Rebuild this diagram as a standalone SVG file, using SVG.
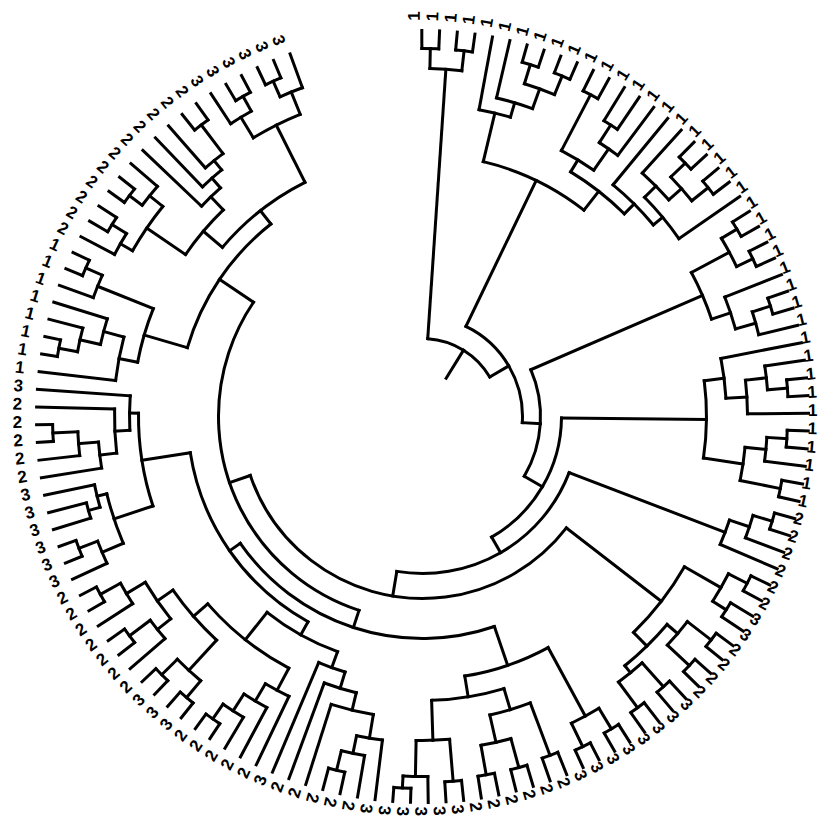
<svg xmlns="http://www.w3.org/2000/svg" width="819" height="821" viewBox="0 0 819 821">
<style>
.t path,.t circle{fill:none;stroke:#000;stroke-width:3;stroke-linecap:square}
.l text{font-family:"Liberation Sans",Arial,sans-serif;font-size:17px;font-weight:bold;fill:#000;dominant-baseline:central}
.l .f{text-anchor:end}
</style>
<rect width="819" height="821" fill="#fff"/>
<g id="connectors" class="t" transform="translate(422.5,416.5)">
<path d="M45 0H78" transform="rotate(-58.27)"/>
<circle r="78" pathLength="360" stroke-dasharray="55.76 720" transform="rotate(-86.15)"/>
<path d="M78 0H348" transform="rotate(-86.15)"/>
<path d="M78 0H100" transform="rotate(-30.39)"/>
<circle r="100" pathLength="360" stroke-dasharray="67.78 720" transform="rotate(-64.28)"/>
<path d="M100 0H262" transform="rotate(-64.28)"/>
<path d="M100 0H118" transform="rotate(3.51)"/>
<circle r="118" pathLength="360" stroke-dasharray="53.77 720" transform="rotate(-23.38)"/>
<path d="M118 0H305" transform="rotate(-23.38)"/>
<path d="M118 0H139" transform="rotate(30.39)"/>
<circle r="139" pathLength="360" stroke-dasharray="59.59 720" transform="rotate(0.6)"/>
<path d="M139 0H284" transform="rotate(0.6)"/>
<path d="M139 0H157" transform="rotate(60.18)"/>
<circle r="157" pathLength="360" stroke-dasharray="78.48 720" transform="rotate(20.94)"/>
<path d="M157 0H324" transform="rotate(20.94)"/>
<path d="M157 0H182" transform="rotate(99.42)"/>
<circle r="182" pathLength="360" stroke-dasharray="123.35 720" transform="rotate(37.75)"/>
<path d="M182 0H302" transform="rotate(37.75)"/>
<path d="M182 0H204" transform="rotate(161.09)"/>
<circle r="204" pathLength="360" stroke-dasharray="105.92 720" transform="rotate(108.13)"/>
<path d="M204 0H222" transform="rotate(108.13)"/>
<path d="M204 0H245" transform="rotate(214.05)"/>
<circle r="348" pathLength="360" stroke-dasharray="5.27 720" transform="rotate(-88.78)"/>
<path d="M348 0H368" transform="rotate(-88.78)"/>
<path d="M348 0H368" transform="rotate(-83.51)"/>
<circle r="368" pathLength="360" stroke-dasharray="2.64 720" transform="rotate(-90.1)"/>
<circle r="368" pathLength="360" stroke-dasharray="2.64 720" transform="rotate(-84.83)"/>
<path d="M368 0H386" transform="rotate(-90.1)"/>
<path d="M368 0H386" transform="rotate(-87.46)"/>
<path d="M368 0H386" transform="rotate(-84.83)"/>
<path d="M368 0H386" transform="rotate(-82.19)"/>
<circle r="262" pathLength="360" stroke-dasharray="24.63 720" transform="rotate(-76.59)"/>
<path d="M262 0H312" transform="rotate(-76.59)"/>
<path d="M262 0H286" transform="rotate(-51.96)"/>
<circle r="312" pathLength="360" stroke-dasharray="5.94 720" transform="rotate(-79.56)"/>
<path d="M312 0H386" transform="rotate(-79.56)"/>
<path d="M312 0H327" transform="rotate(-73.63)"/>
<circle r="327" pathLength="360" stroke-dasharray="6.59 720" transform="rotate(-76.92)"/>
<path d="M327 0H386" transform="rotate(-76.92)"/>
<path d="M327 0H348" transform="rotate(-70.33)"/>
<circle r="348" pathLength="360" stroke-dasharray="5.27 720" transform="rotate(-72.97)"/>
<path d="M348 0H368" transform="rotate(-72.97)"/>
<path d="M348 0H368" transform="rotate(-67.7)"/>
<circle r="368" pathLength="360" stroke-dasharray="2.63 720" transform="rotate(-74.28)"/>
<circle r="368" pathLength="360" stroke-dasharray="2.63 720" transform="rotate(-69.01)"/>
<path d="M368 0H386" transform="rotate(-74.28)"/>
<path d="M368 0H386" transform="rotate(-71.65)"/>
<path d="M368 0H386" transform="rotate(-69.01)"/>
<path d="M368 0H386" transform="rotate(-66.38)"/>
<circle r="286" pathLength="360" stroke-dasharray="13.68 720" transform="rotate(-58.8)"/>
<path d="M286 0H300" transform="rotate(-58.8)"/>
<path d="M286 0H300" transform="rotate(-45.12)"/>
<circle r="300" pathLength="360" stroke-dasharray="7.25 720" transform="rotate(-62.42)"/>
<path d="M300 0H363" transform="rotate(-62.42)"/>
<path d="M300 0H326" transform="rotate(-55.18)"/>
<circle r="363" pathLength="360" stroke-dasharray="2.64 720" transform="rotate(-63.74)"/>
<path d="M363 0H386" transform="rotate(-63.74)"/>
<path d="M363 0H386" transform="rotate(-61.1)"/>
<circle r="326" pathLength="360" stroke-dasharray="3.95 720" transform="rotate(-57.15)"/>
<path d="M326 0H347" transform="rotate(-57.15)"/>
<path d="M326 0H386" transform="rotate(-53.2)"/>
<circle r="347" pathLength="360" stroke-dasharray="2.64 720" transform="rotate(-58.47)"/>
<path d="M347 0H386" transform="rotate(-58.47)"/>
<path d="M347 0H386" transform="rotate(-55.83)"/>
<circle r="300" pathLength="360" stroke-dasharray="10.88 720" transform="rotate(-50.56)"/>
<path d="M300 0H386" transform="rotate(-50.56)"/>
<path d="M300 0H312" transform="rotate(-39.69)"/>
<circle r="312" pathLength="360" stroke-dasharray="9.89 720" transform="rotate(-44.63)"/>
<path d="M312 0H328" transform="rotate(-44.63)"/>
<path d="M312 0H386" transform="rotate(-34.74)"/>
<circle r="328" pathLength="360" stroke-dasharray="6.59 720" transform="rotate(-47.92)"/>
<path d="M328 0H386" transform="rotate(-47.92)"/>
<path d="M328 0H345" transform="rotate(-41.34)"/>
<circle r="345" pathLength="360" stroke-dasharray="5.27 720" transform="rotate(-43.97)"/>
<path d="M345 0H365" transform="rotate(-43.97)"/>
<path d="M345 0H366" transform="rotate(-38.7)"/>
<circle r="365" pathLength="360" stroke-dasharray="2.64 720" transform="rotate(-45.29)"/>
<circle r="366" pathLength="360" stroke-dasharray="2.64 720" transform="rotate(-40.02)"/>
<path d="M365 0H386" transform="rotate(-45.29)"/>
<path d="M365 0H386" transform="rotate(-42.65)"/>
<path d="M366 0H386" transform="rotate(-40.02)"/>
<path d="M366 0H386" transform="rotate(-37.38)"/>
<circle r="305" pathLength="360" stroke-dasharray="9.56 720" transform="rotate(-28.16)"/>
<path d="M305 0H348" transform="rotate(-28.16)"/>
<path d="M305 0H325" transform="rotate(-18.6)"/>
<circle r="348" pathLength="360" stroke-dasharray="5.27 720" transform="rotate(-30.79)"/>
<path d="M348 0H366" transform="rotate(-30.79)"/>
<path d="M348 0H366" transform="rotate(-25.52)"/>
<circle r="366" pathLength="360" stroke-dasharray="2.64 720" transform="rotate(-32.11)"/>
<circle r="366" pathLength="360" stroke-dasharray="2.64 720" transform="rotate(-26.84)"/>
<path d="M366 0H386" transform="rotate(-32.11)"/>
<path d="M366 0H386" transform="rotate(-29.47)"/>
<path d="M366 0H386" transform="rotate(-26.84)"/>
<path d="M366 0H386" transform="rotate(-24.2)"/>
<circle r="325" pathLength="360" stroke-dasharray="5.93 720" transform="rotate(-21.56)"/>
<path d="M325 0H386" transform="rotate(-21.56)"/>
<path d="M325 0H346" transform="rotate(-15.64)"/>
<circle r="346" pathLength="360" stroke-dasharray="3.95 720" transform="rotate(-17.61)"/>
<path d="M346 0H365" transform="rotate(-17.61)"/>
<path d="M346 0H386" transform="rotate(-13.66)"/>
<circle r="365" pathLength="360" stroke-dasharray="2.64 720" transform="rotate(-18.93)"/>
<path d="M365 0H386" transform="rotate(-18.93)"/>
<path d="M365 0H386" transform="rotate(-16.29)"/>
<circle r="284" pathLength="360" stroke-dasharray="15.65 720" transform="rotate(-7.23)"/>
<path d="M284 0H304" transform="rotate(-7.23)"/>
<path d="M284 0H324" transform="rotate(8.42)"/>
<circle r="304" pathLength="360" stroke-dasharray="7.58 720" transform="rotate(-11.02)"/>
<path d="M304 0H386" transform="rotate(-11.02)"/>
<path d="M304 0H325" transform="rotate(-3.44)"/>
<circle r="325" pathLength="360" stroke-dasharray="5.93 720" transform="rotate(-6.41)"/>
<path d="M325 0H346" transform="rotate(-6.41)"/>
<path d="M325 0H386" transform="rotate(-0.48)"/>
<circle r="346" pathLength="360" stroke-dasharray="3.95 720" transform="rotate(-8.38)"/>
<path d="M346 0H386" transform="rotate(-8.38)"/>
<path d="M346 0H366" transform="rotate(-4.43)"/>
<circle r="366" pathLength="360" stroke-dasharray="2.64 720" transform="rotate(-5.75)"/>
<path d="M366 0H386" transform="rotate(-5.75)"/>
<path d="M366 0H386" transform="rotate(-3.11)"/>
<circle r="324" pathLength="360" stroke-dasharray="5.93 720" transform="rotate(5.46)"/>
<path d="M324 0H345" transform="rotate(5.46)"/>
<path d="M324 0H365" transform="rotate(11.39)"/>
<circle r="345" pathLength="360" stroke-dasharray="3.95 720" transform="rotate(3.48)"/>
<path d="M345 0H365" transform="rotate(3.48)"/>
<path d="M345 0H386" transform="rotate(7.43)"/>
<circle r="365" pathLength="360" stroke-dasharray="2.64 720" transform="rotate(2.16)"/>
<path d="M365 0H386" transform="rotate(2.16)"/>
<path d="M365 0H386" transform="rotate(4.8)"/>
<circle r="365" pathLength="360" stroke-dasharray="2.63 720" transform="rotate(10.07)"/>
<path d="M365 0H386" transform="rotate(10.07)"/>
<path d="M365 0H386" transform="rotate(12.7)"/>
<circle r="324" pathLength="360" stroke-dasharray="4.62 720" transform="rotate(18.64)"/>
<path d="M324 0H345" transform="rotate(18.64)"/>
<path d="M324 0H386" transform="rotate(23.25)"/>
<circle r="345" pathLength="360" stroke-dasharray="3.95 720" transform="rotate(16.66)"/>
<path d="M345 0H365" transform="rotate(16.66)"/>
<path d="M345 0H386" transform="rotate(20.61)"/>
<circle r="365" pathLength="360" stroke-dasharray="2.64 720" transform="rotate(15.34)"/>
<path d="M365 0H386" transform="rotate(15.34)"/>
<path d="M365 0H386" transform="rotate(17.98)"/>
<circle r="302" pathLength="360" stroke-dasharray="15.81 720" transform="rotate(29.84)"/>
<path d="M302 0H344" transform="rotate(29.84)"/>
<path d="M302 0H321" transform="rotate(45.65)"/>
<circle r="344" pathLength="360" stroke-dasharray="5.28 720" transform="rotate(27.2)"/>
<path d="M344 0H365" transform="rotate(27.2)"/>
<path d="M344 0H360" transform="rotate(32.48)"/>
<circle r="365" pathLength="360" stroke-dasharray="2.64 720" transform="rotate(25.88)"/>
<path d="M365 0H386" transform="rotate(25.88)"/>
<path d="M365 0H386" transform="rotate(28.52)"/>
<circle r="360" pathLength="360" stroke-dasharray="2.63 720" transform="rotate(31.16)"/>
<path d="M360 0H386" transform="rotate(31.16)"/>
<path d="M360 0H386" transform="rotate(33.79)"/>
<circle r="321" pathLength="360" stroke-dasharray="10.55 720" transform="rotate(40.38)"/>
<path d="M321 0H335" transform="rotate(40.38)"/>
<path d="M321 0H330" transform="rotate(50.93)"/>
<circle r="335" pathLength="360" stroke-dasharray="5.28 720" transform="rotate(37.75)"/>
<path d="M335 0H365" transform="rotate(37.75)"/>
<path d="M335 0H365" transform="rotate(43.02)"/>
<circle r="365" pathLength="360" stroke-dasharray="2.63 720" transform="rotate(36.43)"/>
<circle r="365" pathLength="360" stroke-dasharray="2.64 720" transform="rotate(41.7)"/>
<path d="M365 0H386" transform="rotate(36.43)"/>
<path d="M365 0H386" transform="rotate(39.06)"/>
<path d="M365 0H386" transform="rotate(41.7)"/>
<path d="M365 0H386" transform="rotate(44.34)"/>
<circle r="330" pathLength="360" stroke-dasharray="5.27 720" transform="rotate(48.29)"/>
<path d="M330 0H362" transform="rotate(48.29)"/>
<path d="M330 0H362" transform="rotate(53.56)"/>
<circle r="362" pathLength="360" stroke-dasharray="2.64 720" transform="rotate(46.97)"/>
<circle r="362" pathLength="360" stroke-dasharray="2.64 720" transform="rotate(52.24)"/>
<path d="M362 0H386" transform="rotate(46.97)"/>
<path d="M362 0H386" transform="rotate(49.61)"/>
<path d="M362 0H386" transform="rotate(52.24)"/>
<path d="M362 0H386" transform="rotate(54.88)"/>
<circle r="222" pathLength="360" stroke-dasharray="74.04 720" transform="rotate(71.11)"/>
<path d="M222 0H263" transform="rotate(71.11)"/>
<path d="M222 0H235" transform="rotate(145.15)"/>
<circle r="263" pathLength="360" stroke-dasharray="19.28 720" transform="rotate(61.47)"/>
<path d="M263 0H341" transform="rotate(61.47)"/>
<path d="M263 0H284" transform="rotate(80.75)"/>
<circle r="341" pathLength="360" stroke-dasharray="5.27 720" transform="rotate(58.84)"/>
<path d="M341 0H365" transform="rotate(58.84)"/>
<path d="M341 0H367" transform="rotate(64.11)"/>
<circle r="365" pathLength="360" stroke-dasharray="2.63 720" transform="rotate(57.52)"/>
<path d="M365 0H386" transform="rotate(57.52)"/>
<path d="M365 0H386" transform="rotate(60.15)"/>
<circle r="367" pathLength="360" stroke-dasharray="2.63 720" transform="rotate(62.79)"/>
<path d="M367 0H386" transform="rotate(62.79)"/>
<path d="M367 0H386" transform="rotate(65.42)"/>
<circle r="284" pathLength="360" stroke-dasharray="14.83 720" transform="rotate(73.33)"/>
<path d="M284 0H306" transform="rotate(73.33)"/>
<path d="M284 0H324" transform="rotate(88.16)"/>
<circle r="306" pathLength="360" stroke-dasharray="7.91 720" transform="rotate(69.38)"/>
<path d="M306 0H362" transform="rotate(69.38)"/>
<path d="M306 0H334" transform="rotate(77.29)"/>
<circle r="362" pathLength="360" stroke-dasharray="2.64 720" transform="rotate(68.06)"/>
<path d="M362 0H386" transform="rotate(68.06)"/>
<path d="M362 0H386" transform="rotate(70.7)"/>
<circle r="334" pathLength="360" stroke-dasharray="5.27 720" transform="rotate(74.65)"/>
<path d="M334 0H364" transform="rotate(74.65)"/>
<path d="M334 0H364" transform="rotate(79.92)"/>
<circle r="364" pathLength="360" stroke-dasharray="2.64 720" transform="rotate(73.33)"/>
<circle r="364" pathLength="360" stroke-dasharray="2.64 720" transform="rotate(78.6)"/>
<path d="M364 0H386" transform="rotate(73.33)"/>
<path d="M364 0H386" transform="rotate(75.97)"/>
<path d="M364 0H386" transform="rotate(78.6)"/>
<path d="M364 0H386" transform="rotate(81.24)"/>
<circle r="324" pathLength="360" stroke-dasharray="5.93 720" transform="rotate(85.2)"/>
<path d="M324 0H366" transform="rotate(85.2)"/>
<path d="M324 0H360" transform="rotate(91.13)"/>
<circle r="366" pathLength="360" stroke-dasharray="2.63 720" transform="rotate(83.88)"/>
<path d="M366 0H386" transform="rotate(83.88)"/>
<path d="M366 0H386" transform="rotate(86.51)"/>
<circle r="360" pathLength="360" stroke-dasharray="3.95 720" transform="rotate(89.15)"/>
<path d="M360 0H386" transform="rotate(89.15)"/>
<path d="M360 0H372" transform="rotate(93.1)"/>
<circle r="372" pathLength="360" stroke-dasharray="2.64 720" transform="rotate(91.78)"/>
<path d="M372 0H386" transform="rotate(91.78)"/>
<path d="M372 0H386" transform="rotate(94.42)"/>
<circle r="235" pathLength="360" stroke-dasharray="52 720" transform="rotate(119.15)"/>
<path d="M235 0H250" transform="rotate(119.15)"/>
<path d="M235 0H284" transform="rotate(171.15)"/>
<circle r="250" pathLength="360" stroke-dasharray="18.58 720" transform="rotate(109.87)"/>
<path d="M250 0H267" transform="rotate(109.87)"/>
<path d="M250 0H285" transform="rotate(128.44)"/>
<circle r="267" pathLength="360" stroke-dasharray="6.01 720" transform="rotate(106.86)"/>
<path d="M267 0H284" transform="rotate(106.86)"/>
<path d="M267 0H386" transform="rotate(112.87)"/>
<circle r="284" pathLength="360" stroke-dasharray="6.76 720" transform="rotate(103.48)"/>
<path d="M284 0H302" transform="rotate(103.48)"/>
<path d="M284 0H386" transform="rotate(110.24)"/>
<circle r="302" pathLength="360" stroke-dasharray="8.24 720" transform="rotate(99.37)"/>
<path d="M302 0H326" transform="rotate(99.37)"/>
<path d="M302 0H386" transform="rotate(107.6)"/>
<circle r="326" pathLength="360" stroke-dasharray="4.61 720" transform="rotate(97.06)"/>
<path d="M326 0H386" transform="rotate(97.06)"/>
<path d="M326 0H344" transform="rotate(101.67)"/>
<circle r="344" pathLength="360" stroke-dasharray="3.96 720" transform="rotate(99.69)"/>
<path d="M344 0H386" transform="rotate(99.69)"/>
<path d="M344 0H364" transform="rotate(103.65)"/>
<circle r="364" pathLength="360" stroke-dasharray="2.63 720" transform="rotate(102.33)"/>
<path d="M364 0H386" transform="rotate(102.33)"/>
<path d="M364 0H386" transform="rotate(104.96)"/>
<circle r="285" pathLength="360" stroke-dasharray="20.92 720" transform="rotate(117.98)"/>
<path d="M285 0H310" transform="rotate(117.98)"/>
<path d="M285 0H304" transform="rotate(138.9)"/>
<circle r="310" pathLength="360" stroke-dasharray="4.94 720" transform="rotate(115.51)"/>
<path d="M310 0H386" transform="rotate(115.51)"/>
<path d="M310 0H330" transform="rotate(120.45)"/>
<circle r="330" pathLength="360" stroke-dasharray="4.62 720" transform="rotate(118.14)"/>
<path d="M330 0H386" transform="rotate(118.14)"/>
<path d="M330 0H350" transform="rotate(122.76)"/>
<circle r="350" pathLength="360" stroke-dasharray="3.96 720" transform="rotate(120.78)"/>
<path d="M350 0H386" transform="rotate(120.78)"/>
<path d="M350 0H368" transform="rotate(124.74)"/>
<circle r="368" pathLength="360" stroke-dasharray="2.63 720" transform="rotate(123.42)"/>
<path d="M368 0H386" transform="rotate(123.42)"/>
<path d="M368 0H386" transform="rotate(126.05)"/>
<circle r="304" pathLength="360" stroke-dasharray="12.53 720" transform="rotate(132.64)"/>
<path d="M304 0H345" transform="rotate(132.64)"/>
<path d="M304 0H323" transform="rotate(145.17)"/>
<circle r="345" pathLength="360" stroke-dasharray="5.28 720" transform="rotate(130.01)"/>
<path d="M345 0H367" transform="rotate(130.01)"/>
<path d="M345 0H367" transform="rotate(135.28)"/>
<circle r="367" pathLength="360" stroke-dasharray="2.63 720" transform="rotate(128.69)"/>
<circle r="367" pathLength="360" stroke-dasharray="2.64 720" transform="rotate(133.96)"/>
<path d="M367 0H386" transform="rotate(128.69)"/>
<path d="M367 0H386" transform="rotate(131.32)"/>
<path d="M367 0H386" transform="rotate(133.96)"/>
<path d="M367 0H386" transform="rotate(136.6)"/>
<circle r="323" pathLength="360" stroke-dasharray="7.91 720" transform="rotate(141.21)"/>
<path d="M323 0H340" transform="rotate(141.21)"/>
<path d="M323 0H345" transform="rotate(149.12)"/>
<circle r="340" pathLength="360" stroke-dasharray="3.96 720" transform="rotate(139.23)"/>
<path d="M340 0H386" transform="rotate(139.23)"/>
<path d="M340 0H366" transform="rotate(143.19)"/>
<circle r="366" pathLength="360" stroke-dasharray="2.63 720" transform="rotate(141.87)"/>
<path d="M366 0H386" transform="rotate(141.87)"/>
<path d="M366 0H386" transform="rotate(144.5)"/>
<circle r="345" pathLength="360" stroke-dasharray="3.96 720" transform="rotate(147.14)"/>
<path d="M345 0H386" transform="rotate(147.14)"/>
<path d="M345 0H368" transform="rotate(151.1)"/>
<circle r="368" pathLength="360" stroke-dasharray="2.63 720" transform="rotate(149.78)"/>
<path d="M368 0H386" transform="rotate(149.78)"/>
<path d="M368 0H386" transform="rotate(152.41)"/>
<circle r="284" pathLength="360" stroke-dasharray="19.03 720" transform="rotate(161.64)"/>
<path d="M284 0H325" transform="rotate(161.64)"/>
<path d="M284 0H293" transform="rotate(180.67)"/>
<circle r="325" pathLength="360" stroke-dasharray="9.23 720" transform="rotate(157.03)"/>
<path d="M325 0H348" transform="rotate(157.03)"/>
<path d="M325 0H335" transform="rotate(166.25)"/>
<circle r="348" pathLength="360" stroke-dasharray="3.95 720" transform="rotate(155.05)"/>
<path d="M348 0H386" transform="rotate(155.05)"/>
<path d="M348 0H368" transform="rotate(159)"/>
<circle r="368" pathLength="360" stroke-dasharray="2.64 720" transform="rotate(157.68)"/>
<path d="M368 0H386" transform="rotate(157.68)"/>
<path d="M368 0H386" transform="rotate(160.32)"/>
<circle r="335" pathLength="360" stroke-dasharray="3.96 720" transform="rotate(164.28)"/>
<path d="M335 0H347" transform="rotate(164.28)"/>
<path d="M335 0H386" transform="rotate(168.23)"/>
<circle r="347" pathLength="360" stroke-dasharray="2.63 720" transform="rotate(162.96)"/>
<path d="M347 0H386" transform="rotate(162.96)"/>
<path d="M347 0H386" transform="rotate(165.59)"/>
<circle r="293" pathLength="360" stroke-dasharray="6.75 720" transform="rotate(177.29)"/>
<path d="M293 0H308" transform="rotate(177.29)"/>
<path d="M293 0H386" transform="rotate(184.04)"/>
<circle r="308" pathLength="360" stroke-dasharray="8.24 720" transform="rotate(173.17)"/>
<path d="M308 0H325" transform="rotate(173.17)"/>
<path d="M308 0H386" transform="rotate(181.41)"/>
<circle r="325" pathLength="360" stroke-dasharray="4.62 720" transform="rotate(170.86)"/>
<path d="M325 0H386" transform="rotate(170.86)"/>
<path d="M325 0H345" transform="rotate(175.48)"/>
<circle r="345" pathLength="360" stroke-dasharray="3.96 720" transform="rotate(173.5)"/>
<path d="M345 0H386" transform="rotate(173.5)"/>
<path d="M345 0H370" transform="rotate(177.46)"/>
<circle r="370" pathLength="360" stroke-dasharray="2.63 720" transform="rotate(176.14)"/>
<path d="M370 0H386" transform="rotate(176.14)"/>
<path d="M370 0H386" transform="rotate(178.77)"/>
<circle r="245" pathLength="360" stroke-dasharray="35.46 720" transform="rotate(196.32)"/>
<path d="M245 0H290" transform="rotate(196.32)"/>
<path d="M245 0H262" transform="rotate(231.78)"/>
<circle r="290" pathLength="360" stroke-dasharray="11.04 720" transform="rotate(190.8)"/>
<path d="M290 0H309" transform="rotate(190.8)"/>
<path d="M290 0H350" transform="rotate(201.84)"/>
<circle r="309" pathLength="360" stroke-dasharray="8.24 720" transform="rotate(186.68)"/>
<path d="M309 0H386" transform="rotate(186.68)"/>
<path d="M309 0H330" transform="rotate(194.92)"/>
<circle r="330" pathLength="360" stroke-dasharray="4.61 720" transform="rotate(192.61)"/>
<path d="M330 0H351" transform="rotate(192.61)"/>
<path d="M330 0H386" transform="rotate(197.22)"/>
<circle r="351" pathLength="360" stroke-dasharray="3.96 720" transform="rotate(190.64)"/>
<path d="M351 0H370" transform="rotate(190.64)"/>
<path d="M351 0H386" transform="rotate(194.59)"/>
<circle r="370" pathLength="360" stroke-dasharray="2.63 720" transform="rotate(189.32)"/>
<path d="M370 0H386" transform="rotate(189.32)"/>
<path d="M370 0H386" transform="rotate(191.95)"/>
<circle r="350" pathLength="360" stroke-dasharray="3.96 720" transform="rotate(199.86)"/>
<path d="M350 0H386" transform="rotate(199.86)"/>
<path d="M350 0H368" transform="rotate(203.82)"/>
<circle r="368" pathLength="360" stroke-dasharray="2.63 720" transform="rotate(202.5)"/>
<path d="M368 0H386" transform="rotate(202.5)"/>
<path d="M368 0H386" transform="rotate(205.13)"/>
<circle r="262" pathLength="360" stroke-dasharray="23.14 720" transform="rotate(220.21)"/>
<path d="M262 0H287" transform="rotate(220.21)"/>
<path d="M262 0H326" transform="rotate(243.35)"/>
<circle r="287" pathLength="360" stroke-dasharray="11.7 720" transform="rotate(214.36)"/>
<path d="M287 0H334" transform="rotate(214.36)"/>
<path d="M287 0H305" transform="rotate(226.06)"/>
<circle r="334" pathLength="360" stroke-dasharray="9.23 720" transform="rotate(209.75)"/>
<path d="M334 0H348" transform="rotate(209.75)"/>
<path d="M334 0H351" transform="rotate(218.97)"/>
<circle r="348" pathLength="360" stroke-dasharray="3.95 720" transform="rotate(207.77)"/>
<path d="M348 0H386" transform="rotate(207.77)"/>
<path d="M348 0H365" transform="rotate(211.72)"/>
<circle r="365" pathLength="360" stroke-dasharray="2.64 720" transform="rotate(210.4)"/>
<path d="M365 0H386" transform="rotate(210.4)"/>
<path d="M365 0H386" transform="rotate(213.04)"/>
<circle r="351" pathLength="360" stroke-dasharray="3.96 720" transform="rotate(217)"/>
<path d="M351 0H367" transform="rotate(217)"/>
<path d="M351 0H386" transform="rotate(220.95)"/>
<circle r="367" pathLength="360" stroke-dasharray="2.63 720" transform="rotate(215.68)"/>
<path d="M367 0H386" transform="rotate(215.68)"/>
<path d="M367 0H386" transform="rotate(218.31)"/>
<circle r="305" pathLength="360" stroke-dasharray="4.95 720" transform="rotate(223.58)"/>
<path d="M305 0H386" transform="rotate(223.58)"/>
<path d="M305 0H318" transform="rotate(228.53)"/>
<circle r="318" pathLength="360" stroke-dasharray="4.62 720" transform="rotate(226.22)"/>
<path d="M318 0H386" transform="rotate(226.22)"/>
<path d="M318 0H330" transform="rotate(230.84)"/>
<circle r="330" pathLength="360" stroke-dasharray="3.95 720" transform="rotate(228.86)"/>
<path d="M330 0H386" transform="rotate(228.86)"/>
<path d="M330 0H366" transform="rotate(232.81)"/>
<circle r="366" pathLength="360" stroke-dasharray="2.64 720" transform="rotate(231.49)"/>
<path d="M366 0H386" transform="rotate(231.49)"/>
<path d="M366 0H386" transform="rotate(234.13)"/>
<circle r="326" pathLength="360" stroke-dasharray="9.23 720" transform="rotate(238.74)"/>
<path d="M326 0H350" transform="rotate(238.74)"/>
<path d="M326 0H350" transform="rotate(247.97)"/>
<circle r="350" pathLength="360" stroke-dasharray="3.96 720" transform="rotate(236.76)"/>
<path d="M350 0H386" transform="rotate(236.76)"/>
<path d="M350 0H367" transform="rotate(240.72)"/>
<circle r="367" pathLength="360" stroke-dasharray="2.64 720" transform="rotate(239.4)"/>
<path d="M367 0H386" transform="rotate(239.4)"/>
<path d="M367 0H386" transform="rotate(242.04)"/>
<circle r="350" pathLength="360" stroke-dasharray="3.95 720" transform="rotate(245.99)"/>
<path d="M350 0H367" transform="rotate(245.99)"/>
<path d="M350 0H386" transform="rotate(249.94)"/>
<circle r="367" pathLength="360" stroke-dasharray="2.64 720" transform="rotate(244.67)"/>
<path d="M367 0H386" transform="rotate(244.67)"/>
<path d="M367 0H386" transform="rotate(247.31)"/>
</g>
<g id="labels" class="l" transform="translate(415,413.8)">
<g id="t0"><text transform="rotate(-90.1)translate(393)">1</text></g>
<g id="t1"><text transform="rotate(-87.46)translate(393)">1</text></g>
<g id="t2"><text transform="rotate(-84.83)translate(393)">1</text></g>
<g id="t3"><text transform="rotate(-82.19)translate(393)">1</text></g>
<g id="t4"><text transform="rotate(-79.56)translate(393)">1</text></g>
<g id="t5"><text transform="rotate(-76.92)translate(393)">1</text></g>
<g id="t6"><text transform="rotate(-74.28)translate(393)">1</text></g>
<g id="t7"><text transform="rotate(-71.65)translate(393)">1</text></g>
<g id="t8"><text transform="rotate(-69.01)translate(393)">1</text></g>
<g id="t9"><text transform="rotate(-66.38)translate(393)">1</text></g>
<g id="t10"><text transform="rotate(-63.74)translate(393)">1</text></g>
<g id="t11"><text transform="rotate(-61.1)translate(393)">1</text></g>
<g id="t12"><text transform="rotate(-58.47)translate(393)">1</text></g>
<g id="t13"><text transform="rotate(-55.83)translate(393)">1</text></g>
<g id="t14"><text transform="rotate(-53.2)translate(393)">1</text></g>
<g id="t15"><text transform="rotate(-50.56)translate(393)">1</text></g>
<g id="t16"><text transform="rotate(-47.92)translate(393)">1</text></g>
<g id="t17"><text transform="rotate(-45.29)translate(393)">1</text></g>
<g id="t18"><text transform="rotate(-42.65)translate(393)">1</text></g>
<g id="t19"><text transform="rotate(-40.02)translate(393)">1</text></g>
<g id="t20"><text transform="rotate(-37.38)translate(393)">1</text></g>
<g id="t21"><text transform="rotate(-34.74)translate(393)">1</text></g>
<g id="t22"><text transform="rotate(-32.11)translate(393)">1</text></g>
<g id="t23"><text transform="rotate(-29.47)translate(393)">1</text></g>
<g id="t24"><text transform="rotate(-26.84)translate(393)">1</text></g>
<g id="t25"><text transform="rotate(-24.2)translate(393)">1</text></g>
<g id="t26"><text transform="rotate(-21.56)translate(393)">1</text></g>
<g id="t27"><text transform="rotate(-18.93)translate(393)">1</text></g>
<g id="t28"><text transform="rotate(-16.29)translate(393)">1</text></g>
<g id="t29"><text transform="rotate(-13.66)translate(393)">1</text></g>
<g id="t30"><text transform="rotate(-11.02)translate(393)">1</text></g>
<g id="t31"><text transform="rotate(-8.38)translate(393)">1</text></g>
<g id="t32"><text transform="rotate(-5.75)translate(393)">1</text></g>
<g id="t33"><text transform="rotate(-3.11)translate(393)">1</text></g>
<g id="t34"><text transform="rotate(-0.48)translate(393)">1</text></g>
<g id="t35"><text transform="rotate(2.16)translate(393)">1</text></g>
<g id="t36"><text transform="rotate(4.8)translate(393)">1</text></g>
<g id="t37"><text transform="rotate(7.43)translate(393)">1</text></g>
<g id="t38"><text transform="rotate(10.07)translate(393)">1</text></g>
<g id="t39"><text transform="rotate(12.7)translate(393)">1</text></g>
<g id="t40"><text transform="rotate(15.34)translate(393)">2</text></g>
<g id="t41"><text transform="rotate(17.98)translate(393)">2</text></g>
<g id="t42"><text transform="rotate(20.61)translate(393)">2</text></g>
<g id="t43"><text transform="rotate(23.25)translate(393)">2</text></g>
<g id="t44"><text transform="rotate(25.88)translate(393)">2</text></g>
<g id="t45"><text transform="rotate(28.52)translate(393)">2</text></g>
<g id="t46"><text transform="rotate(31.16)translate(393)">3</text></g>
<g id="t47"><text transform="rotate(33.79)translate(393)">3</text></g>
<g id="t48"><text transform="rotate(36.43)translate(393)">2</text></g>
<g id="t49"><text transform="rotate(39.06)translate(393)">2</text></g>
<g id="t50"><text transform="rotate(41.7)translate(393)">2</text></g>
<g id="t51"><text transform="rotate(44.34)translate(393)">2</text></g>
<g id="t52"><text transform="rotate(46.97)translate(393)">3</text></g>
<g id="t53"><text transform="rotate(49.61)translate(393)">3</text></g>
<g id="t54"><text transform="rotate(52.24)translate(393)">3</text></g>
<g id="t55"><text transform="rotate(54.88)translate(393)">3</text></g>
<g id="t56"><text transform="rotate(57.52)translate(393)">3</text></g>
<g id="t57"><text transform="rotate(60.15)translate(393)">3</text></g>
<g id="t58"><text transform="rotate(62.79)translate(393)">3</text></g>
<g id="t59"><text transform="rotate(65.42)translate(393)">3</text></g>
<g id="t60"><text transform="rotate(68.06)translate(393)">2</text></g>
<g id="t61"><text transform="rotate(70.7)translate(393)">2</text></g>
<g id="t62"><text transform="rotate(73.33)translate(393)">2</text></g>
<g id="t63"><text transform="rotate(75.97)translate(393)">2</text></g>
<g id="t64"><text transform="rotate(78.6)translate(393)">2</text></g>
<g id="t65"><text transform="rotate(81.24)translate(393)">2</text></g>
<g id="t66"><text transform="rotate(83.88)translate(393)">3</text></g>
<g id="t67"><text transform="rotate(86.51)translate(393)">3</text></g>
<g id="t68"><text transform="rotate(89.15)translate(393)">3</text></g>
<g id="t69"><text transform="rotate(91.78)translate(393)">3</text></g>
<g id="t70"><text transform="rotate(94.42)translate(393)">3</text></g>
<g id="t71"><text transform="rotate(97.06)translate(393)">3</text></g>
<g id="t72"><text transform="rotate(99.69)translate(393)">2</text></g>
<g id="t73"><text transform="rotate(102.33)translate(393)">2</text></g>
<g id="t74"><text transform="rotate(104.96)translate(393)">2</text></g>
<g id="t75"><text class="f" transform="rotate(107.6)translate(393)rotate(180)">2</text></g>
<g id="t76"><text class="f" transform="rotate(110.24)translate(393)rotate(180)">2</text></g>
<g id="t77"><text class="f" transform="rotate(112.87)translate(393)rotate(180)">3</text></g>
<g id="t78"><text class="f" transform="rotate(115.51)translate(393)rotate(180)">2</text></g>
<g id="t79"><text class="f" transform="rotate(118.14)translate(393)rotate(180)">2</text></g>
<g id="t80"><text class="f" transform="rotate(120.78)translate(393)rotate(180)">2</text></g>
<g id="t81"><text class="f" transform="rotate(123.42)translate(393)rotate(180)">2</text></g>
<g id="t82"><text class="f" transform="rotate(126.05)translate(393)rotate(180)">2</text></g>
<g id="t83"><text class="f" transform="rotate(128.69)translate(393)rotate(180)">3</text></g>
<g id="t84"><text class="f" transform="rotate(131.32)translate(393)rotate(180)">3</text></g>
<g id="t85"><text class="f" transform="rotate(133.96)translate(393)rotate(180)">3</text></g>
<g id="t86"><text class="f" transform="rotate(136.6)translate(393)rotate(180)">2</text></g>
<g id="t87"><text class="f" transform="rotate(139.23)translate(393)rotate(180)">2</text></g>
<g id="t88"><text class="f" transform="rotate(141.87)translate(393)rotate(180)">2</text></g>
<g id="t89"><text class="f" transform="rotate(144.5)translate(393)rotate(180)">2</text></g>
<g id="t90"><text class="f" transform="rotate(147.14)translate(393)rotate(180)">2</text></g>
<g id="t91"><text class="f" transform="rotate(149.78)translate(393)rotate(180)">2</text></g>
<g id="t92"><text class="f" transform="rotate(152.41)translate(393)rotate(180)">2</text></g>
<g id="t93"><text class="f" transform="rotate(155.05)translate(393)rotate(180)">3</text></g>
<g id="t94"><text class="f" transform="rotate(157.68)translate(393)rotate(180)">3</text></g>
<g id="t95"><text class="f" transform="rotate(160.32)translate(393)rotate(180)">3</text></g>
<g id="t96"><text class="f" transform="rotate(162.96)translate(393)rotate(180)">3</text></g>
<g id="t97"><text class="f" transform="rotate(165.59)translate(393)rotate(180)">3</text></g>
<g id="t98"><text class="f" transform="rotate(168.23)translate(393)rotate(180)">3</text></g>
<g id="t99"><text class="f" transform="rotate(170.86)translate(393)rotate(180)">2</text></g>
<g id="t100"><text class="f" transform="rotate(173.5)translate(393)rotate(180)">2</text></g>
<g id="t101"><text class="f" transform="rotate(176.14)translate(393)rotate(180)">2</text></g>
<g id="t102"><text class="f" transform="rotate(178.77)translate(393)rotate(180)">2</text></g>
<g id="t103"><text class="f" transform="rotate(181.41)translate(393)rotate(180)">2</text></g>
<g id="t104"><text class="f" transform="rotate(184.04)translate(393)rotate(180)">3</text></g>
<g id="t105"><text class="f" transform="rotate(186.68)translate(393)rotate(180)">1</text></g>
<g id="t106"><text class="f" transform="rotate(189.32)translate(393)rotate(180)">1</text></g>
<g id="t107"><text class="f" transform="rotate(191.95)translate(393)rotate(180)">1</text></g>
<g id="t108"><text class="f" transform="rotate(194.59)translate(393)rotate(180)">1</text></g>
<g id="t109"><text class="f" transform="rotate(197.22)translate(393)rotate(180)">1</text></g>
<g id="t110"><text class="f" transform="rotate(199.86)translate(393)rotate(180)">1</text></g>
<g id="t111"><text class="f" transform="rotate(202.5)translate(393)rotate(180)">1</text></g>
<g id="t112"><text class="f" transform="rotate(205.13)translate(393)rotate(180)">1</text></g>
<g id="t113"><text class="f" transform="rotate(207.77)translate(393)rotate(180)">2</text></g>
<g id="t114"><text class="f" transform="rotate(210.4)translate(393)rotate(180)">2</text></g>
<g id="t115"><text class="f" transform="rotate(213.04)translate(393)rotate(180)">2</text></g>
<g id="t116"><text class="f" transform="rotate(215.68)translate(393)rotate(180)">2</text></g>
<g id="t117"><text class="f" transform="rotate(218.31)translate(393)rotate(180)">2</text></g>
<g id="t118"><text class="f" transform="rotate(220.95)translate(393)rotate(180)">2</text></g>
<g id="t119"><text class="f" transform="rotate(223.58)translate(393)rotate(180)">2</text></g>
<g id="t120"><text class="f" transform="rotate(226.22)translate(393)rotate(180)">2</text></g>
<g id="t121"><text class="f" transform="rotate(228.86)translate(393)rotate(180)">2</text></g>
<g id="t122"><text class="f" transform="rotate(231.49)translate(393)rotate(180)">2</text></g>
<g id="t123"><text class="f" transform="rotate(234.13)translate(393)rotate(180)">2</text></g>
<g id="t124"><text class="f" transform="rotate(236.76)translate(393)rotate(180)">3</text></g>
<g id="t125"><text class="f" transform="rotate(239.4)translate(393)rotate(180)">3</text></g>
<g id="t126"><text class="f" transform="rotate(242.04)translate(393)rotate(180)">3</text></g>
<g id="t127"><text class="f" transform="rotate(244.67)translate(393)rotate(180)">3</text></g>
<g id="t128"><text class="f" transform="rotate(247.31)translate(393)rotate(180)">3</text></g>
<g id="t129"><text class="f" transform="rotate(249.94)translate(393)rotate(180)">3</text></g>
</g>
</svg>
